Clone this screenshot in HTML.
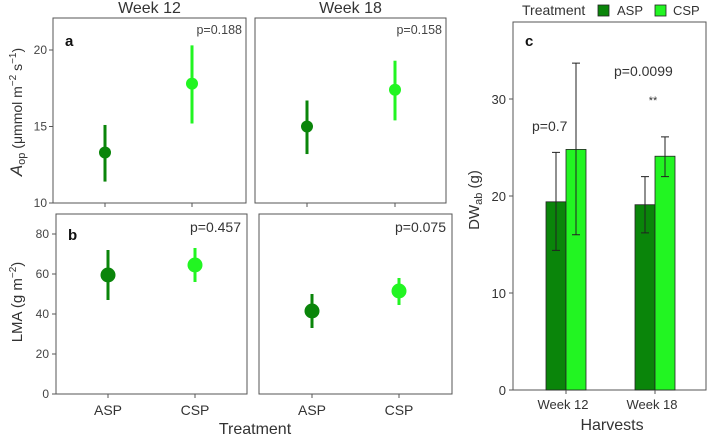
<!DOCTYPE html>
<html><head><meta charset="utf-8"><style>
html,body{margin:0;padding:0;background:#fff;}
svg{display:block;font-family:"Liberation Sans",Arial,sans-serif;}
</style></head><body>
<svg id="fig" width="709" height="436" viewBox="0 0 709 436"></svg>
<script>
const NS="http://www.w3.org/2000/svg";
const svg=document.getElementById('fig');
const DARK="#0a850a", LIGHT="#22f522";
// Panel a data
const weeks=["Week 12","Week 18"];
const treatments=["ASP","CSP"];
const aMean=[[13.3,17.8],[15.0,17.4]];
const aLo=[[11.4,15.2],[13.2,15.4]];
const aHi=[[15.1,20.3],[16.7,19.3]];
const aP=["p=0.188","p=0.158"];
const aTicks=[10,15,20];
// Panel b data
const bMean=[[59.5,64.5],[41.5,51.5]];
const bLo=[[47,56],[33,44.5]];
const bHi=[[72,73],[50,58]];
const bP=["p=0.457","p=0.075"];
const bTicks=[0,20,40,60,80];
// Panel c data
const harvests=["Week 12","Week 18"];
const cMean=[[19.4,24.8],[19.1,24.1]];
const cLo=[[14.4,16.0],[16.2,22.0]];
const cHi=[[24.5,33.7],[22.0,26.1]];
const cP=["p=0.7","p=0.0099"];
const cTicks=[0,10,20,30];

function el(tag,attrs,parent){const e=document.createElementNS(NS,tag);for(const k in attrs)e.setAttribute(k,attrs[k]);(parent||svg).appendChild(e);return e;}
function txt(s,attrs,parent){const e=el('text',attrs,parent);e.textContent=s;return e;}

// Panel a
const aY=v=>203-(v-10)*15.3;
const aBoxes=[[53,246],[255,446]];
const aX=[[105,192],[307,395]];
weeks.forEach((w,wi)=>{
  const [x0,x1]=aBoxes[wi];
  const r=el('rect',{x:x0,y:18,width:x1-x0,height:185,fill:'none',stroke:'#555','stroke-width':1});
  
  const t=txt(w,{x:(x0+x1)/2,y:13,'text-anchor':'middle','font-size':16,fill:'#333'});
  
  const p=txt(aP[wi],{x:x1-4,y:34,'text-anchor':'end','font-size':12.5,fill:'#444'});
  
  treatments.forEach((tr,ti)=>{
    const x=aX[wi][ti],c=ti?LIGHT:DARK;
    el('line',{x1:x,x2:x,y1:203,y2:207,stroke:'#555'});
    const l=el('line',{x1:x,x2:x,y1:aY(aLo[wi][ti]),y2:aY(aHi[wi][ti]),stroke:c,'stroke-width':3});
    
    const pt=el('circle',{cx:x,cy:aY(aMean[wi][ti]),r:6,fill:c});
    
  });
});
aTicks.forEach(v=>{el('line',{x1:49,x2:53,y1:aY(v),y2:aY(v),stroke:'#555'});
  const t=txt(v,{x:47,y:aY(v)+4,'text-anchor':'end','font-size':12,fill:'#444'});
  });
const al=el('text',{transform:'translate(22,112) rotate(-90)','text-anchor':'middle','font-size':14,fill:'#333'});

al.innerHTML='<tspan font-style="italic" font-size="17">A</tspan><tspan font-size="11" dy="3">op</tspan><tspan dy="-3"> (μmmol m</tspan><tspan font-size="10" dy="-6">−2</tspan><tspan dy="6"> s</tspan><tspan font-size="10" dy="-6">−1</tspan><tspan dy="6">)</tspan>';
const la=txt('a',{x:65,y:46,'font-size':15,'font-weight':'bold',fill:'#111'});


// Panel b
const bY=v=>394-v*2;
const bBoxes=[[56,247],[259,452]];
const bX=[[108,195],[312,399]];
weeks.forEach((w,wi)=>{
  const [x0,x1]=bBoxes[wi];
  const r=el('rect',{x:x0,y:214,width:x1-x0,height:180,fill:'none',stroke:'#555','stroke-width':1});
  
  const p=txt(bP[wi],{x:x1-6,y:232,'text-anchor':'end','font-size':14,fill:'#333'});
  
  treatments.forEach((tr,ti)=>{
    const x=bX[wi][ti],c=ti?LIGHT:DARK;
    el('line',{x1:x,x2:x,y1:394,y2:398,stroke:'#555'});
    const xl=txt(tr,{x:x,y:415,'text-anchor':'middle','font-size':14,fill:'#333'});
    
    const l=el('line',{x1:x,x2:x,y1:bY(bLo[wi][ti]),y2:bY(bHi[wi][ti]),stroke:c,'stroke-width':3});
    
    const pt=el('circle',{cx:x,cy:bY(bMean[wi][ti]),r:7.5,fill:c});
    
  });
});
bTicks.forEach(v=>{el('line',{x1:52,x2:56,y1:bY(v),y2:bY(v),stroke:'#555'});
  const t=txt(v,{x:49,y:bY(v)+4,'text-anchor':'end','font-size':12,fill:'#444'});
  });
const bl=el('text',{transform:'translate(22,302) rotate(-90)','text-anchor':'middle','font-size':15,fill:'#333'});

bl.innerHTML='LMA (g m<tspan font-size="10" dy="-6">−2</tspan><tspan dy="6">)</tspan>';
const lb=txt('b',{x:68,y:240,'font-size':15,'font-weight':'bold',fill:'#111'});

const tt=txt('Treatment',{x:255,y:434,'text-anchor':'middle','font-size':16,fill:'#333'});


// Panel c
const cY=v=>390-v*9.7;
const cCenters=[566,655];
const bw=20;
const cr=el('rect',{x:513,y:22,width:193,height:368,fill:'none',stroke:'#555'});

harvests.forEach((h,hi)=>{
  const cx=cCenters[hi];
  treatments.forEach((tr,ti)=>{
    const x=cx-bw+ti*bw,c=ti?LIGHT:DARK;
    const b=el('rect',{x:x,y:cY(cMean[hi][ti]),width:bw,height:390-cY(cMean[hi][ti]),fill:c,stroke:'#222','stroke-width':0.8});
    
    const mx=x+bw/2;
    const e=el('path',{d:`M${mx},${cY(cLo[hi][ti])}V${cY(cHi[hi][ti])}M${mx-4},${cY(cLo[hi][ti])}H${mx+4}M${mx-4},${cY(cHi[hi][ti])}H${mx+4}`,stroke:'#222','stroke-width':1,fill:'none'});
    
  });
  el('line',{x1:cx,x2:cx,y1:390,y2:394,stroke:'#555'});
  const xl=txt(h,{x:cx-3,y:409,'text-anchor':'middle','font-size':13,fill:'#333'});
  
});
const p1=txt(cP[0],{x:532,y:131,'font-size':14,fill:'#333'});

const p2=txt(cP[1],{x:614,y:76,'font-size':14,fill:'#333'});

const st=txt('**',{x:653,y:104,'text-anchor':'middle','font-size':11,fill:'#333'});

cTicks.forEach(v=>{el('line',{x1:509,x2:513,y1:cY(v),y2:cY(v),stroke:'#555'});
  const t=txt(v,{x:506,y:cY(v)+5,'text-anchor':'end','font-size':13,fill:'#333'});
  });
const cl=el('text',{transform:'translate(479,200) rotate(-90)','text-anchor':'middle','font-size':15,fill:'#333'});

cl.innerHTML='DW<tspan font-size="11" dy="3">ab</tspan><tspan dy="-3"> (g)</tspan>';
const lc=txt('c',{x:525,y:46,'font-size':15,'font-weight':'bold',fill:'#111'});

const hx=txt('Harvests',{x:612,y:430,'text-anchor':'middle','font-size':16,fill:'#333'});

// legend
const lt=txt('Treatment',{x:522,y:15,'font-size':14,fill:'#333'});

const ls1=el('rect',{x:598,y:5,width:11,height:11,fill:DARK,stroke:'#222','stroke-width':0.8});

const lt1=txt('ASP',{x:617,y:15,'font-size':13,fill:'#333'});

const ls2=el('rect',{x:655,y:5,width:11,height:11,fill:LIGHT,stroke:'#222','stroke-width':0.8});

const lt2=txt('CSP',{x:673,y:15,'font-size':13,fill:'#333'});

</script>
</body></html>
